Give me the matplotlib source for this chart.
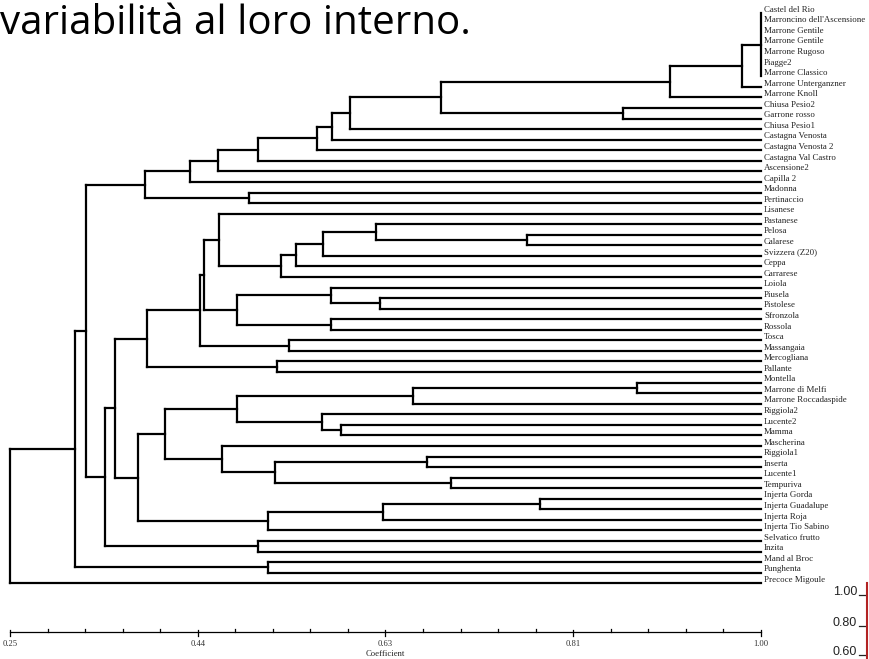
import matplotlib
matplotlib.use('Agg')
import matplotlib.pyplot as plt

leaves = ['Castel del Rio', "Marroncino dell'Ascensione", 'Marrone Gentile', 'Marrone Gentile',
          'Marrone Rugoso', 'Piagge2', 'Marrone Classico', 'Marrone Unterganzner', 'Marrone Knoll',
          'Chiusa Pesio2', 'Garrone rosso', 'Chiusa Pesio1', 'Castagna Venosta', 'Castagna Venosta 2',
          'Castagna Val Castro', 'Ascensione2', 'Capilla 2', 'Madonna', 'Pertinaccio', 'Lisanese',
          'Pastanese', 'Pelosa', 'Calarese', 'Svizzera (Z20)', 'Ceppa', 'Carrarese', 'Loiola',
          'Piusela', 'Pistolese', 'Sfronzola', 'Rossola', 'Tosca', 'Massangaia', 'Mercogliana',
          'Pallante', 'Montella', 'Marrone di Melfi', 'Marrone Roccadaspide', 'Riggiola2', 'Lucente2',
          'Mamma', 'Mascherina', 'Riggiola1', 'Inserta', 'Lucente1', 'Tempuriva', 'Injerta Gorda',
          'Injerta Guadalupe', 'Injerta Roja', 'Injerta Tio Sabino', 'Selvatico frutto', 'Inzita',
          'Mand al Broc', 'Punghenta', 'Precoce Migoule']

# node -> (children, coefficient); ints are leaf indices
nodes = {
    'a1': ([0, 1, 2, 3, 4, 5, 6], 1.000),
    'a2': (['a1', 7], 0.981),
    'a3': (['a2', 8], 0.909),
    'a4': ([9, 10], 0.862),
    'a5': (['a3', 'a4'], 0.680),
    'a6': (['a5', 11], 0.590),
    'a7': (['a6', 12], 0.572),
    'a8': (['a7', 13], 0.557),
    'a9': (['a8', 14], 0.498),
    'a10': (['a9', 15], 0.458),
    'a11': (['a10', 16], 0.430),
    'a12': ([17, 18], 0.489),
    'a13': (['a11', 'a12'], 0.385),
    'b1': ([21, 22], 0.766),
    'b2': ([20, 'b1'], 0.616),
    'b3': (['b2', 23], 0.563),
    'b4': (['b3', 24], 0.536),
    'b5': (['b4', 25], 0.521),
    'b6': ([19, 'b5'], 0.459),
    'b7': ([27, 28], 0.620),
    'b8': ([26, 'b7'], 0.571),
    'b9': ([29, 30], 0.571),
    'b10': (['b8', 'b9'], 0.477),
    'b11': (['b6', 'b10'], 0.444),
    'b12': ([31, 32], 0.529),
    'b13': (['b11', 'b12'], 0.440),
    'b14': ([33, 34], 0.517),
    'b15': (['b13', 'b14'], 0.387),
    'c1': ([35, 36], 0.876),
    'c2': (['c1', 37], 0.652),
    'c3': ([39, 40], 0.581),
    'c4': ([38, 'c3'], 0.562),
    'c5': (['c2', 'c4'], 0.477),
    'c6': ([42, 43], 0.666),
    'c7': ([44, 45], 0.690),
    'c8': (['c6', 'c7'], 0.515),
    'c9': ([41, 'c8'], 0.462),
    'c10': (['c5', 'c9'], 0.405),
    'c11': ([46, 47], 0.779),
    'c12': (['c11', 48], 0.623),
    'c13': (['c12', 49], 0.508),
    'c14': (['c10', 'c13'], 0.378),
    'd1': (['b15', 'c14'], 0.355),
    'd2': ([50, 51], 0.498),
    'd3': (['d1', 'd2'], 0.345),
    'd4': (['a13', 'd3'], 0.326),
    'd5': ([52, 53], 0.508),
    'd6': (['d4', 'd5'], 0.315),
    'root': (['d6', 54], 0.250),
}

ticks = [0.25 + k * 0.0375 for k in range(21)]
tick_labels = ['0.25', '0.44', '0.63', '0.81', '1.00']

fig = plt.figure(figsize=(8.69, 6.59), dpi=100)
ax = fig.add_axes([0, 0, 1, 1])
ax.set_xlim(0.25 - 10 / 1001.3, 0.25 + 859 / 1001.3)
ax.set_ylim((659 - 13) / 10.56, -13 / 10.56)
ax.axis('off')

lw = 1.6


def draw(n):
    if isinstance(n, int):
        return n, 1.0
    children, h = nodes[n]
    ys = []
    for c in children:
        cy, cx = draw(c)
        if cx != h:
            ax.plot([h, cx], [cy, cy], color='black', lw=lw, solid_capstyle='projecting')
        ys.append(cy)
    ax.plot([h, h], [min(ys), max(ys)], color='black', lw=lw, solid_capstyle='projecting')
    return (min(ys) + max(ys)) / 2, h


draw('root')

for i, name in enumerate(leaves):
    ax.text(1.003, i - 0.12, name, fontsize=6.4, family='Liberation Serif',
            va='baseline', ha='left', color='#222222')

# coefficient axis
ya = (632 - 13) / 10.56
ax.plot([0.25, 1.0], [ya, ya], color='black', lw=0.9)
for k, t in enumerate(ticks):
    if k % 5 == 0:
        ax.plot([t, t], [ya - 0.15, ya + 0.4], color='black', lw=0.9)
    else:
        ax.plot([t, t], [ya - 0.3, ya], color='black', lw=0.9)
for k, lab in enumerate(tick_labels):
    ax.text(ticks[k * 5], ya + 1.15, lab, fontsize=6.2, family='Liberation Serif',
            ha='center', va='center', color='#333333')
ax.text(0.625, ya + 2.1, 'Coefficient', fontsize=6.2, family='Liberation Serif',
        ha='center', va='center', color='#222222')

fig.text(0.0, 1 - 24 / 659, 'variabilità al loro interno.', fontsize=29, family='Open Sans',
         ha='left', va='center', color='black')

# fragment of another chart at lower right
for lab, py in [('1.00', 592), ('0.80', 623), ('0.60', 652)]:
    fig.text(857 / 869, 1 - py / 659, lab, fontsize=9,
             family='Liberation Sans', ha='right', va='center', color='#222222')
    fig.add_artist(plt.Line2D([859 / 869, 866 / 869], [1 - (py + 3) / 659] * 2,
                              color='#222222', lw=0.9))
fig.add_artist(plt.Line2D([867 / 869] * 2, [1 - 583 / 659, 0], color='#b22222', lw=1.5))

fig.savefig('out.png', dpi=100)
